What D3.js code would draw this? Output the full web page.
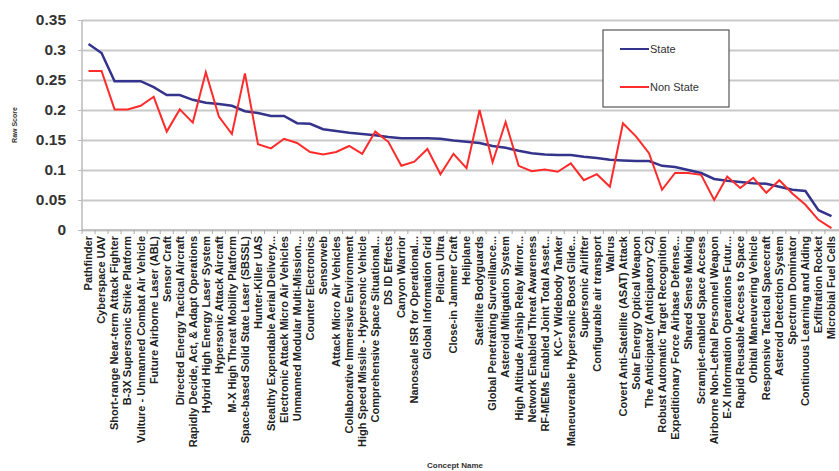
<!DOCTYPE html>
<html>
<head>
<meta charset="utf-8">
<script src="https://cdn.jsdelivr.net/npm/d3@7"></script>
<style>
  body { margin: 0; background: #fff; }
  svg { font-family: "Liberation Sans", Arial, sans-serif; }
  .grid line { stroke: #c9c9c9; stroke-width: 1.8; }
  .grid path { display: none; }
  .ylab text { font-size: 15.5px; font-weight: bold; fill: #333; }
  .xlab text { font-size: 11px; font-weight: bold; fill: #222; }
</style>
</head>
<body>
<div id="chart"></div>
<script>
const concepts = [
  "Pathfinder", "Cyberspace UAV", "Short-range Near-term Attack Fighter", "B-3X Supersonic Strike Platform",
  "Vulture - Unmanned Combat Air Vehicle", "Future Airborne Laser (ABL)", "Sensor Craft",
  "Directed Energy Tactical Aircraft", "Rapidly Decide, Act, & Adapt Operations", "Hybrid High Energy Laser System",
  "Hypersonic Attack Aircraft", "M-X High Threat Mobility Platform", "Space-based Solid State Laser (SBSSL)",
  "Hunter-Killer UAS", "Stealthy Expendable Aerial Delivery...", "Electronic Attack Micro Air Vehicles",
  "Unmanned Modular Multi-Mission...", "Counter Electronics", "Sensorweb", "Attack Micro Air Vehicles",
  "Collaborative Immersive Environment", "High Speed Missile - Hypersonic Vehicle", "Comprehensive Space Situational...",
  "DS ID Effects", "Canyon Warrior", "Nanoscale ISR for Operational...", "Global Information Grid",
  "Pelican Ultra", "Close-in Jammer Craft", "Heliplane", "Satellite Bodyguards",
  "Global Penetrating Surveillance...", "Asteroid Mitigation System", "High Altitude Airship Relay Mirror...",
  "Network Enabled Threat Awareness", "RF-MEMs Enabled Joint Total Asset...", "KC-Y Widebody Tanker",
  "Maneuverable Hypersonic Boost Glide...", "Supersonic Airlifter", "Configurable air transport", "Walrus",
  "Covert Anti-Satellite (ASAT) Attack", "Solar Energy Optical Weapon", "The Anticipator (Anticipatory C2)",
  "Robust Automatic Target Recognition", "Expeditionary Force Airbase Defense...", "Shared Sense Making",
  "Scramjet-enabled Space Access", "Airborne Non-Lethal Personnel Weapon", "E-X Information Operations Futur...",
  "Rapid Reusable Access to Space", "Orbital Maneuvering Vehicle", "Responsive Tactical Spacecraft",
  "Asteroid Detection System", "Spectrum Dominator", "Continuous Learning and Aiding",
  "Exfiltration Rocket", "Microbial Fuel Cells"
];

const stateScores = [
  0.31, 0.295, 0.248, 0.248, 0.248, 0.238, 0.225, 0.225, 0.217, 0.212,
  0.21, 0.207, 0.198, 0.195, 0.19, 0.19, 0.178, 0.177, 0.168, 0.165,
  0.162, 0.16, 0.158, 0.155, 0.153, 0.153, 0.153, 0.152, 0.149, 0.147,
  0.145, 0.14, 0.137, 0.132, 0.128, 0.126, 0.125, 0.125, 0.122, 0.12,
  0.117, 0.116, 0.115, 0.115, 0.107, 0.105, 0.1, 0.095, 0.085, 0.082,
  0.08, 0.078, 0.077, 0.072, 0.067, 0.065, 0.033, 0.023
];

const nonStateScores = [
  0.265, 0.265, 0.201, 0.201, 0.207, 0.222, 0.164, 0.201, 0.179, 0.263,
  0.189, 0.16, 0.261, 0.143, 0.136, 0.152, 0.145, 0.13, 0.126, 0.13,
  0.14, 0.127, 0.164, 0.147, 0.107, 0.114, 0.135, 0.093, 0.127, 0.103,
  0.2, 0.113, 0.18, 0.107, 0.098, 0.101, 0.097, 0.111, 0.083, 0.093,
  0.072, 0.178, 0.156, 0.128, 0.067, 0.095, 0.095, 0.092, 0.05, 0.089,
  0.07, 0.087, 0.062, 0.083, 0.061, 0.042, 0.017, 0.003
];

const yTicks = [0, 0.05, 0.1, 0.15, 0.2, 0.25, 0.3, 0.35];

const W = 839, H = 471;
const margin = { left: 82, top: 20, right: 1, bottom: 241 };
const width = W - margin.left - margin.right;
const height = H - margin.top - margin.bottom;

const svg = d3.select("#chart").append("svg")
  .attr("width", W).attr("height", H);

const x = d3.scaleBand().domain(concepts).range([0, width]);
const y = d3.scaleLinear().domain([0, 0.35]).range([height, 0]);

const chart = svg.append("g").attr("transform", `translate(${margin.left},${margin.top})`);

// horizontal grid
chart.append("g").attr("class", "grid")
  .call(d3.axisLeft(y).tickValues(yTicks).tickSize(-width - 10).tickFormat(""));

// y axis line + labels
chart.append("line").attr("x1", 0).attr("x2", 0).attr("y1", 0).attr("y2", height)
  .attr("stroke", "#bbb").attr("stroke-width", 1.5);
const ya = chart.append("g").attr("class", "ylab")
  .call(d3.axisLeft(y).tickValues(yTicks).tickSize(4).tickPadding(12).tickFormat(d3.format("")));
ya.select(".domain").remove();
ya.selectAll(".tick line").attr("stroke", "#bbb");

// x axis with ticks at category boundaries
chart.append("line").attr("x1", 0).attr("x2", width + 10).attr("y1", height).attr("y2", height)
  .attr("stroke", "#bbb").attr("stroke-width", 1.5);
chart.append("g").selectAll("line")
  .data(concepts).enter().append("line")
  .attr("x1", d => x(d)).attr("x2", d => x(d))
  .attr("y1", height).attr("y2", height + 4)
  .attr("stroke", "#aaa");

const xa = chart.append("g").attr("class", "xlab")
  .attr("transform", `translate(0,${height})`)
  .call(d3.axisBottom(x).tickSize(0).tickPadding(0));
xa.select(".domain").remove();
xa.selectAll("text")
  .attr("transform", "rotate(-90)")
  .attr("text-anchor", "end")
  .attr("x", -6).attr("y", 0).attr("dy", "0.35em");

const cx = (d, i) => x(concepts[i]) + x.bandwidth() / 2;

chart.append("path").datum(stateScores)
  .attr("fill", "none").attr("stroke", "#34348c").attr("stroke-width", 2.5)
  .attr("d", d3.line().x(cx).y(d => y(d)));

chart.append("path").datum(nonStateScores)
  .attr("fill", "none").attr("stroke", "#ff2b2b").attr("stroke-width", 2)
  .attr("d", d3.line().x(cx).y(d => y(d)));

// axis titles
svg.append("text")
  .attr("transform", `translate(17,${margin.top + height / 2}) rotate(-90)`)
  .attr("text-anchor", "middle")
  .attr("font-size", 7).attr("font-weight", "bold").attr("fill", "#333")
  .text("Raw Score");

svg.append("text")
  .attr("x", 455).attr("y", 468)
  .attr("text-anchor", "middle")
  .attr("font-size", 8).attr("font-weight", "bold").attr("fill", "#333")
  .text("Concept Name");

// legend
const legend = svg.append("g").attr("transform", "translate(603,30)");
legend.append("rect").attr("width", 126).attr("height", 77)
  .attr("fill", "#fff").attr("stroke", "#555").attr("stroke-width", 1.2);
const items = [["State", "#34348c"], ["Non State", "#ff2b2b"]];
items.forEach(([name, color], i) => {
  const row = legend.append("g").attr("transform", `translate(0,${19 + i * 38})`);
  row.append("line").attr("x1", 17).attr("x2", 46).attr("stroke", color).attr("stroke-width", 2);
  row.append("text").attr("x", 47).attr("dy", "0.35em")
    .attr("font-size", 11).attr("fill", "#333").text(name);
});
</script>
</body>
</html>
